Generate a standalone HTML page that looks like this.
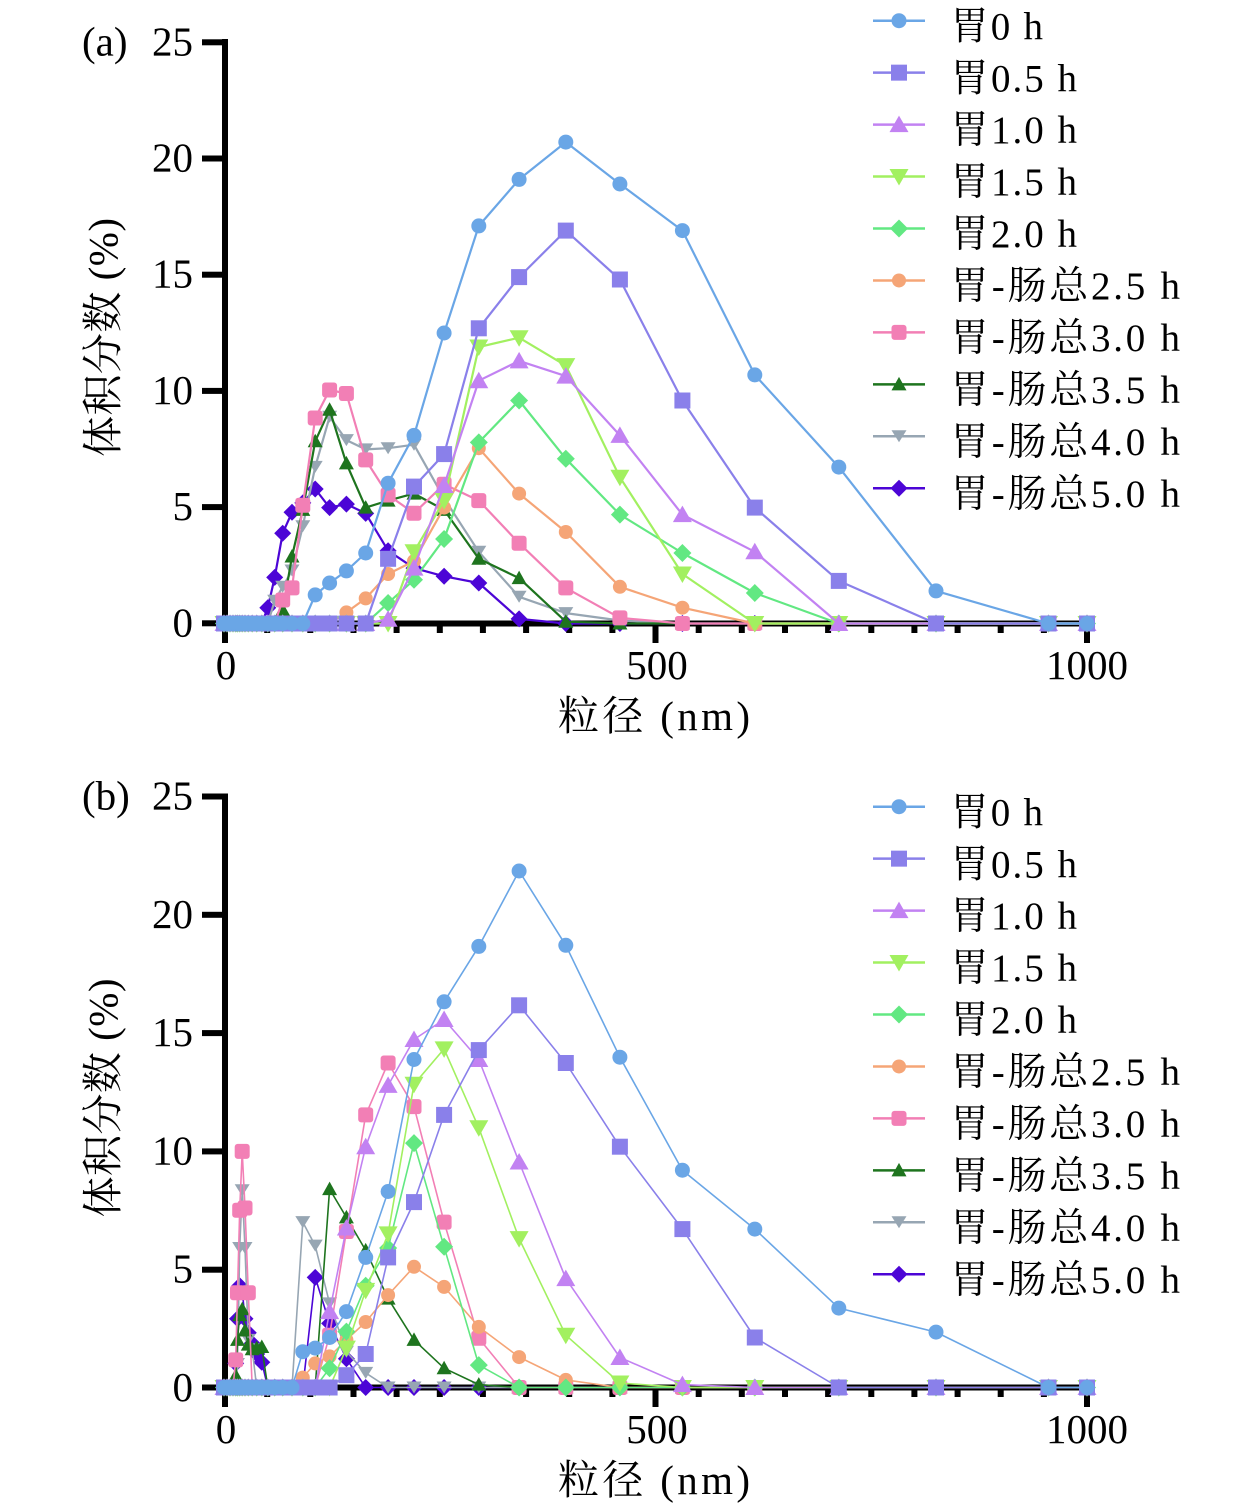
<!DOCTYPE html>
<html><head><meta charset="utf-8"><style>html,body{margin:0;padding:0;background:#fff}svg{display:block}</style></head>
<body>
<svg width="1260" height="1508" viewBox="0 0 1260 1508" xmlns="http://www.w3.org/2000/svg">
<defs>
<marker id="m0" markerUnits="userSpaceOnUse" markerWidth="20" markerHeight="20" refX="10" refY="10" overflow="visible"><circle cx="10" cy="10" r="7.5" fill="#6aa6e6"/></marker>
<marker id="m1" markerUnits="userSpaceOnUse" markerWidth="20" markerHeight="20" refX="10" refY="10" overflow="visible"><rect x="2" y="2" width="16" height="16" fill="#8a80ea"/></marker>
<marker id="m2" markerUnits="userSpaceOnUse" markerWidth="20" markerHeight="20" refX="10" refY="10" overflow="visible"><polygon points="10,1 19.5,17.5 0.5,17.5" fill="#c282f2"/></marker>
<marker id="m3" markerUnits="userSpaceOnUse" markerWidth="20" markerHeight="20" refX="10" refY="10" overflow="visible"><polygon points="0.5,2.5 19.5,2.5 10,19" fill="#a2f060"/></marker>
<marker id="m4" markerUnits="userSpaceOnUse" markerWidth="20" markerHeight="20" refX="10" refY="10" overflow="visible"><polygon points="10,1 19,10 10,19 1,10" fill="#62e882"/></marker>
<marker id="m5" markerUnits="userSpaceOnUse" markerWidth="20" markerHeight="20" refX="10" refY="10" overflow="visible"><circle cx="10" cy="10" r="7" fill="#f5a577"/></marker>
<marker id="m6" markerUnits="userSpaceOnUse" markerWidth="20" markerHeight="20" refX="10" refY="10" overflow="visible"><rect x="2.5" y="2.5" width="15" height="15" rx="3" fill="#f27fb5"/></marker>
<marker id="m7" markerUnits="userSpaceOnUse" markerWidth="20" markerHeight="20" refX="10" refY="10" overflow="visible"><polygon points="10,2.5 17.5,16 2.5,16" fill="#1e741e"/></marker>
<marker id="m8" markerUnits="userSpaceOnUse" markerWidth="20" markerHeight="20" refX="10" refY="10" overflow="visible"><polygon points="2.5,4 17.5,4 10,16" fill="#97a6b3"/></marker>
<marker id="m9" markerUnits="userSpaceOnUse" markerWidth="20" markerHeight="20" refX="10" refY="10" overflow="visible"><polygon points="10,1.5 18.5,10 10,18.5 1.5,10" fill="#4c05d6"/></marker>
</defs>

<g fill="#000">
<!-- Panel a axes -->
<rect x="222" y="39" width="6" height="604"/>
<rect x="222" y="620.5" width="870" height="6"/>
<rect x="202" y="39.3" width="23" height="6"/>
<rect x="202" y="155.5" width="23" height="6"/>
<rect x="202" y="271.7" width="23" height="6"/>
<rect x="202" y="387.9" width="23" height="6"/>
<rect x="202" y="504.1" width="23" height="6"/>
<rect x="202" y="620.3" width="23" height="6"/>
<rect x="264.2" y="623" width="6" height="10"/><rect x="307.3" y="623" width="6" height="10"/><rect x="350.5" y="623" width="6" height="10"/><rect x="393.6" y="623" width="6" height="10"/><rect x="436.8" y="623" width="6" height="10"/><rect x="479.9" y="623" width="6" height="10"/><rect x="523.1" y="623" width="6" height="10"/><rect x="566.2" y="623" width="6" height="10"/><rect x="609.4" y="623" width="6" height="10"/>
<rect x="652.5" y="623" width="6" height="20"/>
<rect x="695.7" y="623" width="6" height="10"/><rect x="738.8" y="623" width="6" height="10"/><rect x="782" y="623" width="6" height="10"/><rect x="825.1" y="623" width="6" height="10"/><rect x="868.3" y="623" width="6" height="10"/><rect x="911.4" y="623" width="6" height="10"/><rect x="954.6" y="623" width="6" height="10"/><rect x="997.7" y="623" width="6" height="10"/><rect x="1040.9" y="623" width="6" height="10"/>
<rect x="1084" y="623" width="6" height="20"/>
<!-- Panel b axes -->
<rect x="222" y="793.5" width="6" height="613.5"/>
<rect x="222" y="1384.5" width="870" height="6"/>
<rect x="202" y="793.5" width="23" height="6"/>
<rect x="202" y="911.8" width="23" height="6"/>
<rect x="202" y="1030.1" width="23" height="6"/>
<rect x="202" y="1148.4" width="23" height="6"/>
<rect x="202" y="1266.7" width="23" height="6"/>
<rect x="202" y="1384.5" width="23" height="6"/>
<rect x="264.2" y="1387" width="6" height="10"/><rect x="307.3" y="1387" width="6" height="10"/><rect x="350.5" y="1387" width="6" height="10"/><rect x="393.6" y="1387" width="6" height="10"/><rect x="436.8" y="1387" width="6" height="10"/><rect x="479.9" y="1387" width="6" height="10"/><rect x="523.1" y="1387" width="6" height="10"/><rect x="566.2" y="1387" width="6" height="10"/><rect x="609.4" y="1387" width="6" height="10"/>
<rect x="652.5" y="1387" width="6" height="20"/>
<rect x="695.7" y="1387" width="6" height="10"/><rect x="738.8" y="1387" width="6" height="10"/><rect x="782" y="1387" width="6" height="10"/><rect x="825.1" y="1387" width="6" height="10"/><rect x="868.3" y="1387" width="6" height="10"/><rect x="911.4" y="1387" width="6" height="10"/><rect x="954.6" y="1387" width="6" height="10"/><rect x="997.7" y="1387" width="6" height="10"/><rect x="1040.9" y="1387" width="6" height="10"/>
<rect x="1084" y="1387" width="6" height="20"/>
</g>

<!-- Text -->
<g font-family="'Liberation Serif','Noto Serif CJK SC',serif" fill="#000" font-size="41">
<text x="82" y="55.3">(a)</text>
<g text-anchor="end">
<text x="193" y="55.3">25</text><text x="193" y="171.5">20</text><text x="193" y="287.7">15</text><text x="193" y="403.9">10</text><text x="193" y="520.1">5</text><text x="193" y="636.3">0</text>
</g>
<g text-anchor="middle">
<text x="226" y="679">0</text><text x="657" y="679">500</text><text x="1087" y="679">1000</text>
<text x="654" y="730" textLength="192" lengthAdjust="spacing">粒径 (nm)</text>
<text transform="translate(117,337.5) rotate(-90)" x="0" y="0" textLength="239" lengthAdjust="spacing">体积分数 (%)</text>
</g>

<text x="82" y="809.5">(b)</text>
<g text-anchor="end">
<text x="193" y="809.5">25</text><text x="193" y="927.8">20</text><text x="193" y="1046.1">15</text><text x="193" y="1164.4">10</text><text x="193" y="1282.7">5</text><text x="193" y="1401">0</text>
</g>
<g text-anchor="middle">
<text x="226" y="1443">0</text><text x="657" y="1443">500</text><text x="1087" y="1443">1000</text>
<text x="654" y="1494" textLength="192" lengthAdjust="spacing">粒径 (nm)</text>
<text transform="translate(117,1098) rotate(-90)" x="0" y="0" textLength="239" lengthAdjust="spacing">体积分数 (%)</text>
</g>
</g>

<!-- Panel a series -->
<g fill="none" stroke-width="2.2" stroke-linejoin="round">
<g stroke="#4c05d6" marker-start="url(#m9)" marker-mid="url(#m9)" marker-end="url(#m9)"><polyline points="224,623.5 227,623.5 230,623.5 233,623.5 235.7,623.5 237.5,623.5 239.7,623.5 242.2,623.5 245,623.5 248.3,623.5 252.2,623.5 256.7,623.5 261.8,623.5 267.8,607.7 274.7,577.4 282.7,533.2 292,512.3 302.8,502.9 315.2,489 329.6,507.6 346.4,504.1 365.7,513.4 388.1,550.7 414,568.1 444.1,576.3 478.8,583 519.1,618.9 565.8,623.5 619.9,623.5 682.4,623.5 754.8,623.5 838.8,623.5 936,623.5 1048.5,623.5 1087,623.5"/></g>
<g stroke="#97a6b3" marker-start="url(#m8)" marker-mid="url(#m8)" marker-end="url(#m8)"><polyline points="224,623.5 227,623.5 230,623.5 233,623.5 235.7,623.5 237.5,623.5 239.7,623.5 242.2,623.5 245,623.5 248.3,623.5 252.2,623.5 256.7,623.5 261.8,623.5 267.8,623.5 274.7,600.7 282.7,586.8 292,570.5 302.8,526.2 315.2,466.9 329.6,416.8 346.4,440.1 365.7,449.4 388.1,448.2 414,444.7 444.1,498.3 478.8,551.8 519.1,596.8 565.8,613.1 619.9,620.5 682.4,623.5 754.8,623.5 838.8,623.5 936,623.5 1048.5,623.5 1087,623.5"/></g>
<g stroke="#1e741e" marker-start="url(#m7)" marker-mid="url(#m7)" marker-end="url(#m7)"><polyline points="224,623.5 227,623.5 230,623.5 233,623.5 235.7,623.5 237.5,623.5 239.7,623.5 242.2,623.5 245,623.5 248.3,623.5 252.2,623.5 256.7,623.5 261.8,623.5 267.8,623.5 274.7,623.5 282.7,610 292,556.5 302.8,509.9 315.2,441.3 329.6,409.8 346.4,463.4 365.7,507.6 388.1,500.6 414,493.6 444.1,509.9 478.8,558.8 519.1,578.1 565.8,621.7 619.9,623.5 682.4,623.5 754.8,623.5 838.8,623.5 936,623.5 1048.5,623.5 1087,623.5"/></g>
<g stroke="#f27fb5" marker-start="url(#m6)" marker-mid="url(#m6)" marker-end="url(#m6)"><polyline points="224,623.5 227,623.5 230,623.5 233,623.5 235.7,623.5 237.5,623.5 239.7,623.5 242.2,623.5 245,623.5 248.3,623.5 252.2,623.5 256.7,623.5 261.8,623.5 267.8,623.5 274.7,623.5 282.7,600 292,587.9 302.8,505.3 315.2,418 329.6,390 346.4,393.5 365.7,459.9 388.1,495 414,513.2 444.1,484.3 478.8,500.6 519.1,543.2 565.8,587.9 619.9,617.9 682.4,623.5 754.8,623.5 838.8,623.5 936,623.5 1048.5,623.5 1087,623.5"/></g>
<g stroke="#f5a577" marker-start="url(#m5)" marker-mid="url(#m5)" marker-end="url(#m5)"><polyline points="224,623.5 227,623.5 230,623.5 233,623.5 235.7,623.5 237.5,623.5 239.7,623.5 242.2,623.5 245,623.5 248.3,623.5 252.2,623.5 256.7,623.5 261.8,623.5 267.8,623.5 274.7,623.5 282.7,623.5 292,623.5 302.8,623.5 315.2,623.5 329.6,623.5 346.4,612.4 365.7,598.4 388.1,574 414,561.1 444.1,507.6 478.8,448.2 519.1,493.6 565.8,532 619.9,586.8 682.4,607.7 754.8,623.5 838.8,623.5 936,623.5 1048.5,623.5 1087,623.5"/></g>
<g stroke="#62e882" marker-start="url(#m4)" marker-mid="url(#m4)" marker-end="url(#m4)"><polyline points="224,623.5 227,623.5 230,623.5 233,623.5 235.7,623.5 237.5,623.5 239.7,623.5 242.2,623.5 245,623.5 248.3,623.5 252.2,623.5 256.7,623.5 261.8,623.5 267.8,623.5 274.7,623.5 282.7,623.5 292,623.5 302.8,623.5 315.2,623.5 329.6,623.5 346.4,623.5 365.7,623.5 388.1,603 414,579.8 444.1,539 478.8,442.4 519.1,400.5 565.8,458.7 619.9,514.6 682.4,553 754.8,593 838.8,623.5 936,623.5 1048.5,623.5 1087,623.5"/></g>
<g stroke="#a2f060" marker-start="url(#m3)" marker-mid="url(#m3)" marker-end="url(#m3)"><polyline points="224,623.5 227,623.5 230,623.5 233,623.5 235.7,623.5 237.5,623.5 239.7,623.5 242.2,623.5 245,623.5 248.3,623.5 252.2,623.5 256.7,623.5 261.8,623.5 267.8,623.5 274.7,623.5 282.7,623.5 292,623.5 302.8,623.5 315.2,623.5 329.6,623.5 346.4,623.5 365.7,623.5 388.1,623.5 414,551.8 444.1,500.6 478.8,347 519.1,337.7 565.8,365.6 619.9,477.3 682.4,574 754.8,623.5 838.8,623.5 936,623.5 1048.5,623.5 1087,623.5"/></g>
<g stroke="#c282f2" marker-start="url(#m2)" marker-mid="url(#m2)" marker-end="url(#m2)"><polyline points="224,623.5 227,623.5 230,623.5 233,623.5 235.7,623.5 237.5,623.5 239.7,623.5 242.2,623.5 245,623.5 248.3,623.5 252.2,623.5 256.7,623.5 261.8,623.5 267.8,623.5 274.7,623.5 282.7,623.5 292,623.5 302.8,623.5 315.2,623.5 329.6,623.5 346.4,623.5 365.7,623.5 388.1,619.3 414,568.1 444.1,485.5 478.8,380.7 519.1,360.9 565.8,376.1 619.9,435.4 682.4,514.6 754.8,551.8 838.8,623.5 936,623.5 1048.5,623.5 1087,623.5"/></g>
<g stroke="#8a80ea" marker-start="url(#m1)" marker-mid="url(#m1)" marker-end="url(#m1)"><polyline points="224,623.5 227,623.5 230,623.5 233,623.5 235.7,623.5 237.5,623.5 239.7,623.5 242.2,623.5 245,623.5 248.3,623.5 252.2,623.5 256.7,623.5 261.8,623.5 267.8,623.5 274.7,623.5 282.7,623.5 292,623.5 302.8,623.5 315.2,623.5 329.6,623.5 346.4,623.5 365.7,623.5 388.1,558.8 414,486.6 444.1,454.1 478.8,328.3 519.1,277.1 565.8,230.6 619.9,279.5 682.4,400.5 754.8,507.6 838.8,580.9 936,623.5 1048.5,623.5 1087,623.5"/></g>
<g stroke="#6aa6e6" marker-start="url(#m0)" marker-mid="url(#m0)" marker-end="url(#m0)"><polyline points="224,623.5 227,623.5 230,623.5 233,623.5 235.7,623.5 237.5,623.5 239.7,623.5 242.2,623.5 245,623.5 248.3,623.5 252.2,623.5 256.7,623.5 261.8,623.5 267.8,623.5 274.7,623.5 282.7,623.5 292,623.5 302.8,623.5 315.2,594.9 329.6,583 346.4,570.9 365.7,553 388.1,483.2 414,435.4 444.1,333 478.8,225.9 519.1,179.4 565.8,142.1 619.9,184 682.4,230.6 754.8,374.9 838.8,467.1 936,590.9 1048.5,623.5 1087,623.5"/></g>
</g>

<!-- Panel b series -->
<g fill="none" stroke-width="1.6" stroke-linejoin="round">
<g stroke="#4c05d6" marker-start="url(#m9)" marker-mid="url(#m9)" marker-end="url(#m9)"><polyline points="224,1387.5 227,1387.5 230,1387.5 233,1387.5 235.7,1363.4 237.5,1318.7 239.7,1285.7 242.2,1290.4 245,1318.7 248.3,1332.8 252.2,1343.4 256.7,1354 261.8,1362.3 267.8,1387.5 274.7,1387.5 282.7,1387.5 292,1387.5 302.8,1387.5 315.2,1277.4 329.6,1323.4 346.4,1358.7 365.7,1387.5 388.1,1387.5 414,1387.5 444.1,1387.5 478.8,1387.5 519.1,1387.5 565.8,1387.5 619.9,1387.5 682.4,1387.5 754.8,1387.5 838.8,1387.5 936,1387.5 1048.5,1387.5 1087,1387.5"/></g>
<g stroke="#97a6b3" marker-start="url(#m8)" marker-mid="url(#m8)" marker-end="url(#m8)"><polyline points="224,1387.5 227,1387.5 230,1387.5 233,1387.5 235.7,1387.5 237.5,1364 239.7,1248 242.2,1190.3 245,1248 248.3,1339.9 252.2,1349.3 256.7,1387.5 261.8,1387.5 267.8,1387.5 274.7,1387.5 282.7,1387.5 292,1387.5 302.8,1222.1 315.2,1245.6 329.6,1303.4 346.4,1351.7 365.7,1372.9 388.1,1387.5 414,1387.5 444.1,1387.5 478.8,1387.5 519.1,1387.5 565.8,1387.5 619.9,1387.5 682.4,1387.5 754.8,1387.5 838.8,1387.5 936,1387.5 1048.5,1387.5 1087,1387.5"/></g>
<g stroke="#1e741e" marker-start="url(#m7)" marker-mid="url(#m7)" marker-end="url(#m7)"><polyline points="224,1387.5 227,1387.5 230,1387.5 233,1387.5 235.7,1375.7 237.5,1339.9 239.7,1315.1 242.2,1309.3 245,1330.5 248.3,1344.6 252.2,1349.3 256.7,1348.1 261.8,1347 267.8,1387.5 274.7,1387.5 282.7,1387.5 292,1387.5 302.8,1387.5 315.2,1387.5 329.6,1189.1 346.4,1217.4 365.7,1250.4 388.1,1298.6 414,1339.9 444.1,1368.2 478.8,1384.6 519.1,1387.5 565.8,1387.5 619.9,1387.5 682.4,1387.5 754.8,1387.5 838.8,1387.5 936,1387.5 1048.5,1387.5 1087,1387.5"/></g>
<g stroke="#f27fb5" marker-start="url(#m6)" marker-mid="url(#m6)" marker-end="url(#m6)"><polyline points="224,1387.5 227,1387.5 230,1387.5 233,1387.5 235.7,1359.9 237.5,1292.8 239.7,1210.3 242.2,1151.4 245,1208 248.3,1292.8 252.2,1387.5 256.7,1387.5 261.8,1387.5 267.8,1387.5 274.7,1387.5 282.7,1387.5 292,1387.5 302.8,1387.5 315.2,1387.5 329.6,1335.2 346.4,1231.5 365.7,1114.9 388.1,1063 414,1106.6 444.1,1222.1 478.8,1338.2 519.1,1387.5 565.8,1387.5 619.9,1387.5 682.4,1387.5 754.8,1387.5 838.8,1387.5 936,1387.5 1048.5,1387.5 1087,1387.5"/></g>
<g stroke="#f5a577" marker-start="url(#m5)" marker-mid="url(#m5)" marker-end="url(#m5)"><polyline points="224,1387.5 227,1387.5 230,1387.5 233,1387.5 235.7,1387.5 237.5,1387.5 239.7,1387.5 242.2,1387.5 245,1387.5 248.3,1387.5 252.2,1387.5 256.7,1387.5 261.8,1387.5 267.8,1387.5 274.7,1387.5 282.7,1387.5 292,1387.5 302.8,1377.6 315.2,1363.4 329.6,1356.4 346.4,1339.9 365.7,1322 388.1,1295.1 414,1266.8 444.1,1286.9 478.8,1326.9 519.1,1357.1 565.8,1379.9 619.9,1387.5 682.4,1387.5 754.8,1387.5 838.8,1387.5 936,1387.5 1048.5,1387.5 1087,1387.5"/></g>
<g stroke="#62e882" marker-start="url(#m4)" marker-mid="url(#m4)" marker-end="url(#m4)"><polyline points="224,1387.5 227,1387.5 230,1387.5 233,1387.5 235.7,1387.5 237.5,1387.5 239.7,1387.5 242.2,1387.5 245,1387.5 248.3,1387.5 252.2,1387.5 256.7,1387.5 261.8,1387.5 267.8,1387.5 274.7,1387.5 282.7,1387.5 292,1387.5 302.8,1387.5 315.2,1387.5 329.6,1368.2 346.4,1331.6 365.7,1285.7 388.1,1248 414,1143.1 444.1,1246.8 478.8,1365.1 519.1,1387.5 565.8,1387.5 619.9,1387.5 682.4,1387.5 754.8,1387.5 838.8,1387.5 936,1387.5 1048.5,1387.5 1087,1387.5"/></g>
<g stroke="#a2f060" marker-start="url(#m3)" marker-mid="url(#m3)" marker-end="url(#m3)"><polyline points="224,1387.5 227,1387.5 230,1387.5 233,1387.5 235.7,1387.5 237.5,1387.5 239.7,1387.5 242.2,1387.5 245,1387.5 248.3,1387.5 252.2,1387.5 256.7,1387.5 261.8,1387.5 267.8,1387.5 274.7,1387.5 282.7,1387.5 292,1387.5 302.8,1387.5 315.2,1387.5 329.6,1387.5 346.4,1348.1 365.7,1290.4 388.1,1233.9 414,1084.3 444.1,1048.9 478.8,1127.8 519.1,1238.6 565.8,1335.2 619.9,1383 682.4,1387.5 754.8,1387.5 838.8,1387.5 936,1387.5 1048.5,1387.5 1087,1387.5"/></g>
<g stroke="#c282f2" marker-start="url(#m2)" marker-mid="url(#m2)" marker-end="url(#m2)"><polyline points="224,1387.5 227,1387.5 230,1387.5 233,1387.5 235.7,1387.5 237.5,1387.5 239.7,1387.5 242.2,1387.5 245,1387.5 248.3,1387.5 252.2,1387.5 256.7,1387.5 261.8,1387.5 267.8,1387.5 274.7,1387.5 282.7,1387.5 292,1387.5 302.8,1387.5 315.2,1387.5 329.6,1311.6 346.4,1228 365.7,1146.7 388.1,1085.4 414,1039.5 444.1,1019.5 478.8,1059.5 519.1,1162 565.8,1278.6 619.9,1357.5 682.4,1384.6 754.8,1387.5 838.8,1387.5 936,1387.5 1048.5,1387.5 1087,1387.5"/></g>
<g stroke="#8a80ea" marker-start="url(#m1)" marker-mid="url(#m1)" marker-end="url(#m1)"><polyline points="224,1387.5 227,1387.5 230,1387.5 233,1387.5 235.7,1387.5 237.5,1387.5 239.7,1387.5 242.2,1387.5 245,1387.5 248.3,1387.5 252.2,1387.5 256.7,1387.5 261.8,1387.5 267.8,1387.5 274.7,1387.5 282.7,1387.5 292,1387.5 302.8,1387.5 315.2,1387.5 329.6,1387.5 346.4,1375.2 365.7,1354 388.1,1257.4 414,1202.1 444.1,1114.9 478.8,1050.1 519.1,1005.3 565.8,1063 619.9,1146.7 682.4,1229.1 754.8,1337.5 838.8,1387.5 936,1387.5 1048.5,1387.5 1087,1387.5"/></g>
<g stroke="#6aa6e6" marker-start="url(#m0)" marker-mid="url(#m0)" marker-end="url(#m0)"><polyline points="224,1387.5 227,1387.5 230,1387.5 233,1387.5 235.7,1387.5 237.5,1387.5 239.7,1387.5 242.2,1387.5 245,1387.5 248.3,1387.5 252.2,1387.5 256.7,1387.5 261.8,1387.5 267.8,1387.5 274.7,1387.5 282.7,1387.5 292,1387.5 302.8,1351.7 315.2,1348.1 329.6,1337.5 346.4,1311.6 365.7,1257.4 388.1,1191.5 414,1059.5 444.1,1001.8 478.8,946.4 519.1,871 565.8,945.3 619.9,1057.2 682.4,1170.2 754.8,1229.1 838.8,1308.1 936,1332.1 1048.5,1387.5 1087,1387.5"/></g>
</g>

<!-- Legends -->
<g fill="none" stroke-width="2.5">
<g stroke="#6aa6e6" marker-mid="url(#m0)"><polyline points="873,20.7 899,20.7 925,20.7"/><polyline points="873,806.7 899,806.7 925,806.7"/></g>
<g stroke="#8a80ea" marker-mid="url(#m1)"><polyline points="873,72.65 899,72.65 925,72.65"/><polyline points="873,858.65 899,858.65 925,858.65"/></g>
<g stroke="#c282f2" marker-mid="url(#m2)"><polyline points="873,124.6 899,124.6 925,124.6"/><polyline points="873,910.6 899,910.6 925,910.6"/></g>
<g stroke="#a2f060" marker-mid="url(#m3)"><polyline points="873,176.55 899,176.55 925,176.55"/><polyline points="873,962.55 899,962.55 925,962.55"/></g>
<g stroke="#62e882" marker-mid="url(#m4)"><polyline points="873,228.5 899,228.5 925,228.5"/><polyline points="873,1014.5 899,1014.5 925,1014.5"/></g>
<g stroke="#f5a577" marker-mid="url(#m5)"><polyline points="873,280.45 899,280.45 925,280.45"/><polyline points="873,1066.45 899,1066.45 925,1066.45"/></g>
<g stroke="#f27fb5" marker-mid="url(#m6)"><polyline points="873,332.4 899,332.4 925,332.4"/><polyline points="873,1118.4 899,1118.4 925,1118.4"/></g>
<g stroke="#1e741e" marker-mid="url(#m7)"><polyline points="873,384.35 899,384.35 925,384.35"/><polyline points="873,1170.35 899,1170.35 925,1170.35"/></g>
<g stroke="#97a6b3" marker-mid="url(#m8)"><polyline points="873,436.3 899,436.3 925,436.3"/><polyline points="873,1222.3 899,1222.3 925,1222.3"/></g>
<g stroke="#4c05d6" marker-mid="url(#m9)"><polyline points="873,488.25 899,488.25 925,488.25"/><polyline points="873,1274.25 899,1274.25 925,1274.25"/></g>
</g>

<g font-family="'Liberation Serif','Noto Serif CJK SC',serif" fill="#000" font-size="39">
<text x="950" y="39.3" textLength="93" lengthAdjust="spacing">胃0 h</text>
<text x="950" y="91.25" textLength="127" lengthAdjust="spacing">胃0.5 h</text>
<text x="950" y="143.2" textLength="127" lengthAdjust="spacing">胃1.0 h</text>
<text x="950" y="195.15" textLength="127" lengthAdjust="spacing">胃1.5 h</text>
<text x="950" y="247.1" textLength="127" lengthAdjust="spacing">胃2.0 h</text>
<text x="950" y="299.05" textLength="230" lengthAdjust="spacing">胃-肠总2.5 h</text>
<text x="950" y="351" textLength="230" lengthAdjust="spacing">胃-肠总3.0 h</text>
<text x="950" y="402.95" textLength="230" lengthAdjust="spacing">胃-肠总3.5 h</text>
<text x="950" y="454.9" textLength="230" lengthAdjust="spacing">胃-肠总4.0 h</text>
<text x="950" y="506.85" textLength="230" lengthAdjust="spacing">胃-肠总5.0 h</text>

<text x="950" y="825.3" textLength="93" lengthAdjust="spacing">胃0 h</text>
<text x="950" y="877.25" textLength="127" lengthAdjust="spacing">胃0.5 h</text>
<text x="950" y="929.2" textLength="127" lengthAdjust="spacing">胃1.0 h</text>
<text x="950" y="981.15" textLength="127" lengthAdjust="spacing">胃1.5 h</text>
<text x="950" y="1033.1" textLength="127" lengthAdjust="spacing">胃2.0 h</text>
<text x="950" y="1085.05" textLength="230" lengthAdjust="spacing">胃-肠总2.5 h</text>
<text x="950" y="1137" textLength="230" lengthAdjust="spacing">胃-肠总3.0 h</text>
<text x="950" y="1188.95" textLength="230" lengthAdjust="spacing">胃-肠总3.5 h</text>
<text x="950" y="1240.9" textLength="230" lengthAdjust="spacing">胃-肠总4.0 h</text>
<text x="950" y="1292.85" textLength="230" lengthAdjust="spacing">胃-肠总5.0 h</text>
</g>
</svg>
</body></html>
